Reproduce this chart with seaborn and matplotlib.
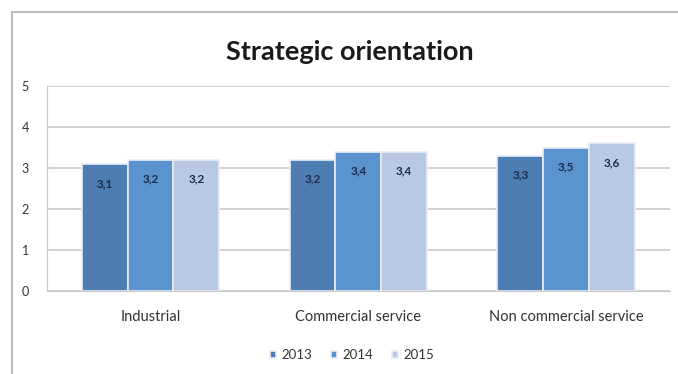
import matplotlib
matplotlib.use("Agg")
import matplotlib.pyplot as plt
import seaborn as sns
import pandas as pd
from matplotlib.patches import Rectangle

categories = ["Industrial", "Commercial service", "Non commercial service"]
years = ["2013", "2014", "2015"]
values_2013 = [3.1, 3.2, 3.3]
values_2014 = [3.2, 3.4, 3.5]
values_2015 = [3.2, 3.4, 3.6]
y_ticks = [0, 1, 2, 3, 4, 5]
colors = ["#4e7db3", "#5a93cf", "#b9c9e3"]

rows = []
for yr, vals in zip(years, [values_2013, values_2014, values_2015]):
    for cat, v in zip(categories, vals):
        rows.append({"category": cat, "year": yr, "value": v})
df = pd.DataFrame(rows)

sns.set_style("white")
plt.rcParams["font.family"] = ["Lato", "DejaVu Sans"]

fig = plt.figure(figsize=(6.78, 3.74), dpi=100)
ax = fig.add_axes([0.069, 0.222, 0.919, 0.548])

sns.barplot(data=df, x="category", y="value", hue="year", order=categories,
            hue_order=years, palette=colors, width=0.66, ax=ax,
            edgecolor="#e8eef7", linewidth=1.2, saturation=1, errorbar=None)

for cont in ax.containers:
    labels = [f"{b.get_height():.1f}".replace(".", ",") for b in cont]
    ax.bar_label(cont, labels=labels, label_type="edge", padding=-18,
                 fontsize=8.5, fontweight="bold", color="#1c2b48")

ax.set_ylim(0, 5)
ax.set_yticks(y_ticks)
ax.set_yticklabels([str(t) for t in y_ticks], fontsize=9, color="#333333")
ax.set_xlim(-0.5, 2.5)
ax.yaxis.grid(True, color="#c8c8c8", linewidth=1.2)
ax.set_axisbelow(True)
for s in ["top", "right"]:
    ax.spines[s].set_visible(False)
ax.spines["left"].set_color("#c8c8c8")
ax.spines["bottom"].set_color("#c8c8c8")
ax.tick_params(axis="x", labelsize=10.5, colors="#333333", length=0, pad=14)
ax.tick_params(axis="y", pad=13, length=0)
ax.set_xlabel("")
ax.set_ylabel("")

leg = ax.legend(loc="upper center", bbox_to_anchor=(0.49, -0.225), ncol=3,
                frameon=False, fontsize=9.5, handlelength=0.5, handleheight=0.5,
                columnspacing=1.4, handletextpad=0.4)
for t in leg.get_texts():
    t.set_color("#333333")

fig.text(0.516, 0.862, "Strategic orientation", ha="center", va="center",
         fontsize=19.5, fontweight="bold", color="#1a1a1a")

# outer chart frame
fig.patches.append(Rectangle((12 / 678, -0.1), 1.2, 1 - 12 / 374 + 0.1,
                             transform=fig.transFigure, fill=False,
                             edgecolor="#bdbdbd", linewidth=1.5))

fig.savefig("out.png", dpi=100)
